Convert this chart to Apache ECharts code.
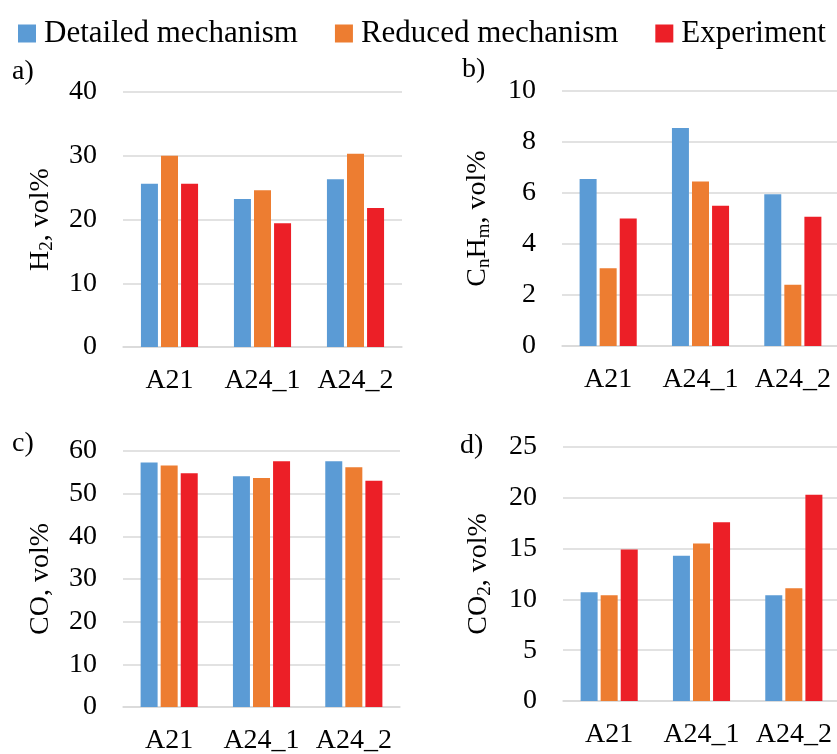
<!DOCTYPE html>
<html>
<head>
<meta charset="utf-8">
<script src="https://cdn.jsdelivr.net/npm/echarts@6/dist/echarts.min.js"></script>
<style>
html,body{margin:0;padding:0;background:#fff;}
#chart{width:837px;height:754px;}
</style>
</head>
<body>
<div id="chart"></div>
<script>
const categories = ['A21', 'A24_1', 'A24_2'];
const seriesNames = ['Detailed mechanism', 'Reduced mechanism', 'Experiment'];

const h2Detailed = [25.6, 23.2, 26.3];
const h2Reduced = [30.0, 24.6, 30.3];
const h2Experiment = [25.6, 19.4, 21.8];

const cnhmDetailed = [6.55, 8.55, 5.95];
const cnhmReduced = [3.05, 6.45, 2.4];
const cnhmExperiment = [5.0, 5.5, 5.07];

const coDetailed = [57.3, 54.1, 57.6];
const coReduced = [56.6, 53.7, 56.2];
const coExperiment = [54.8, 57.6, 53.0];

const co2Detailed = [10.7, 14.3, 10.4];
const co2Reduced = [10.4, 15.5, 11.1];
const co2Experiment = [14.9, 17.6, 20.3];

const yMax = [40, 10, 60, 25];
const yInterval = [10, 2, 10, 5];
const panelLetters = ['a)', 'b)', 'c)', 'd)'];

const FONT = 'Liberation Serif';
const colors = ['#5B9BD5', '#ED7D31', '#EC1F27'];

const panels = [
  [h2Detailed, h2Reduced, h2Experiment],
  [cnhmDetailed, cnhmReduced, cnhmExperiment],
  [coDetailed, coReduced, coExperiment],
  [co2Detailed, co2Reduced, co2Experiment]
];

const axisNames = [
  '{a|H}{s|2}{a|, vol%}',
  '{a|C}{s|n}{a|H}{s|m}{a|, vol%}',
  '{a|CO, vol%}',
  '{a|CO}{s|2}{a|, vol%}'
];

const grids = [
  {left: 123, top: 92, width: 279, height: 255},
  {left: 562, top: 91, width: 277, height: 255},
  {left: 123, top: 451, width: 277, height: 256},
  {left: 563, top: 447, width: 277, height: 254}
];

const nameGaps = [66, 68, 66, 68];

const letterPos = [
  {left: 12, top: 58},
  {left: 462, top: 56},
  {left: 12, top: 430},
  {left: 460, top: 432}
];

const serifRich = (size, padLeft) => ({t: {fontFamily: FONT, fontSize: size, color: '#000', padding: [0, 0, 0, padLeft || 0]}});

const chart = echarts.init(document.getElementById('chart'), null, {renderer: 'canvas'});

const option = {
  animation: false,
  backgroundColor: '#fff',
  color: colors,
  textStyle: {fontFamily: FONT},
  legend: {
    data: seriesNames,
    left: 18,
    top: 18,
    itemWidth: 18,
    itemHeight: 18,
    itemGap: 37,
    icon: 'rect',
    padding: 0,
    formatter: '{t|{name}}',
    textStyle: {fontFamily: FONT, fontSize: 31, color: '#000', rich: serifRich(31, 3)}
  },
  grid: grids.map(g => Object.assign({outerBoundsMode: 'none', containLabel: false}, g)),
  xAxis: grids.map((g, i) => ({
    type: 'category',
    gridIndex: i,
    data: categories,
    axisLine: {show: true, lineStyle: {color: '#D9D9D9', width: 1.5}},
    axisTick: {show: false},
    axisLabel: {
      fontFamily: FONT, fontSize: 28, color: '#000', margin: 20, interval: 0,
      formatter: '{t|{value}}', rich: serifRich(28)
    }
  })),
  yAxis: grids.map((g, i) => ({
    type: 'value',
    gridIndex: i,
    min: 0,
    max: yMax[i],
    interval: yInterval[i],
    axisLine: {show: false},
    axisTick: {show: false},
    splitLine: {lineStyle: {color: '#D9D9D9', width: 1.5}},
    axisLabel: {
      fontFamily: FONT, fontSize: 28, color: '#000', margin: 26,
      formatter: '{t|{value}}', rich: serifRich(28)
    },
    name: axisNames[i],
    nameLocation: 'middle',
    nameRotate: 90,
    nameGap: nameGaps[i],
    nameTextStyle: {
      fontFamily: FONT,
      color: '#000',
      rich: {
        a: {fontFamily: FONT, fontSize: 28, color: '#000', lineHeight: 32},
        s: {fontFamily: FONT, fontSize: 19, color: '#000', lineHeight: 18, verticalAlign: 'bottom'}
      }
    }
  })),
  series: [],
  graphic: panelLetters.map((t, i) => ({
    type: 'text',
    left: letterPos[i].left,
    top: letterPos[i].top,
    style: {text: t, font: '28px "Liberation Serif"', fill: '#000'}
  }))
};

panels.forEach((vals, pi) => {
  vals.forEach((arr, si) => {
    option.series.push({
      type: 'bar',
      name: seriesNames[si],
      xAxisIndex: pi,
      yAxisIndex: pi,
      data: arr,
      barWidth: 17,
      barGap: '18%',
      itemStyle: {color: colors[si]}
    });
  });
});

chart.setOption(option);
</script>
</body>
</html>
